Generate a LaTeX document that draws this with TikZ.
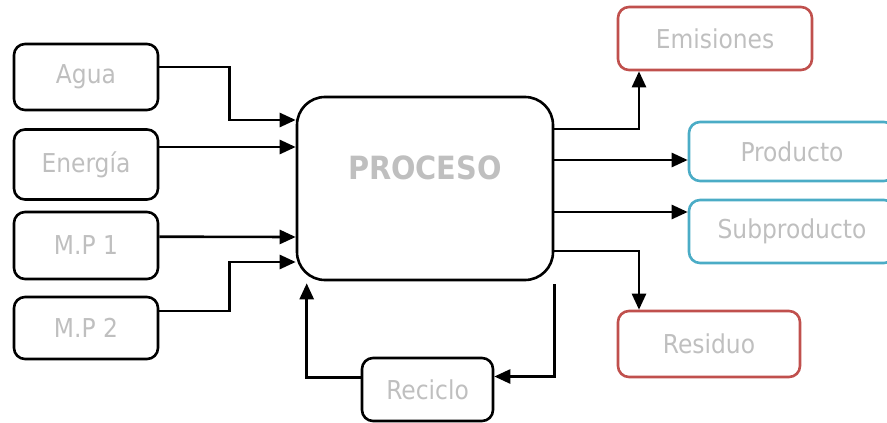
\documentclass[tikz,border=0pt]{standalone}
\usepackage{fontspec}
\setmainfont{DejaVu Sans Condensed}
\usetikzlibrary{arrows.meta}
\definecolor{txtgray}{RGB}{191,191,191}
\definecolor{boxred}{RGB}{192,80,77}
\definecolor{boxblue}{RGB}{75,172,198}
\tikzset{
  inbox/.style={draw=black, line width=2.6pt, rounded corners=11pt, inner sep=0pt,
    text=txtgray, font=\fontsize{26}{29}\selectfont},
  redbox/.style={inbox, draw=boxred},
  bluebox/.style={inbox, draw=boxblue},
  arr/.style={line width=2.6pt, -{Triangle[length=16pt,width=14pt]}}
}
\begin{document}
\begin{tikzpicture}[x=1pt,y=-1pt]
\useasboundingbox (0,0) rectangle (887,423);
\begin{scope}
\clip (0,0) rectangle (887,423);
% inputs
\node[inbox, minimum width=144pt, minimum height=66pt] (agua) at (86,77) {Agua};
\node[inbox, minimum width=144pt, minimum height=70pt] (energia) at (86,164.5) {Energía};
\node[inbox, minimum width=144pt, minimum height=67pt] (mp1) at (86,245.5) {M.P 1};
\node[inbox, minimum width=144pt, minimum height=62pt] (mp2) at (86,328) {M.P 2};
% process
\node[draw=black, line width=2.6pt, rounded corners=28pt, minimum width=256pt, minimum height=183pt, inner sep=0pt] (proc) at (425,188.5) {};
\node[text=txtgray, font=\bfseries\fontsize{32}{36}\selectfont, inner sep=0pt] (proctext) at (425,168) {PROCESO};
% outputs
\node[redbox, minimum width=194pt, minimum height=63pt] (emis) at (715,38.5) {Emisiones};
\node[bluebox, minimum width=206pt, minimum height=59pt] (prod) at (792,151.5) {Producto};
\node[bluebox, minimum width=206pt, minimum height=63pt] (sub) at (792,231.5) {Subproducto};
\node[redbox, minimum width=182pt, minimum height=66pt] (res) at (709,344) {Residuo};
\node[inbox, minimum width=131pt, minimum height=63pt] (recic) at (427.5,389.5) {Reciclo};
% input connectors
\draw[arr] ([yshift=10pt]agua.east) -- ++(70,0) |- ([yshift=68.5pt]proc.west);
\draw[arr] ([yshift=17.5pt]energia.east) -- ([yshift=41.5pt]proc.west);
\draw[arr] ([yshift=8.8pt]mp1.east) -- ([yshift=-48.5pt]proc.west);
\draw[arr] ([yshift=17pt]mp2.east) -- ++(70,0) |- ([yshift=-73.5pt]proc.west);
% output connectors
\draw[arr] ([yshift=59.5pt]proc.east) -| ([xshift=-76pt]emis.south);
\draw[arr] ([yshift=28.5pt]proc.east) -- ([yshift=-8.5pt]prod.west);
\draw[arr] ([yshift=-23.5pt]proc.east) -- ([yshift=19.5pt]sub.west);
\draw[arr] ([yshift=-62.5pt]proc.east) -| ([xshift=-70pt]res.north);
% recycle loop
\draw[arr] ([yshift=-3pt]proc.south east) |- ([yshift=13pt]recic.east);
\draw[arr] ([yshift=12pt]recic.west) -| ([xshift=11pt,yshift=-2pt]proc.south west);
\end{scope}
\end{tikzpicture}
\end{document}
